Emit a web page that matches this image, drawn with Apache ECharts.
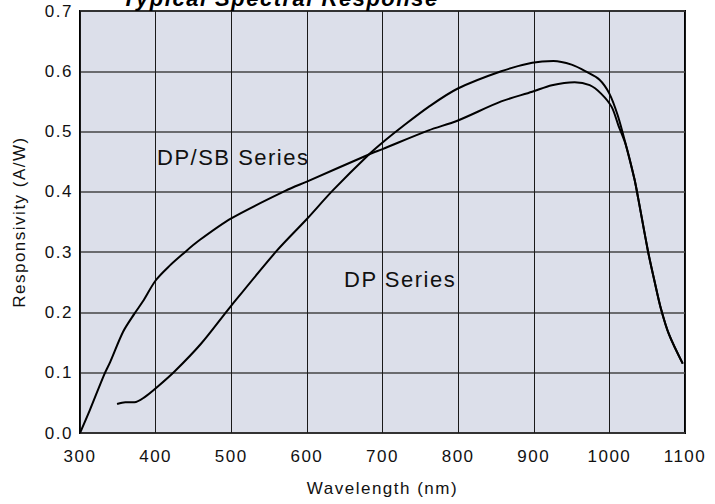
<!DOCTYPE html>
<html>
<head>
<meta charset="utf-8">
<script src="https://cdn.jsdelivr.net/npm/echarts@6/dist/echarts.min.js"></script>
<style>
html,body{margin:0;padding:0;background:#fff;}
#chart{width:715px;height:504px;}
#chart svg text{letter-spacing:1.5px;}
</style>
</head>
<body>
<div id="chart"></div>
<script>
// Tick labels
const xTicks = [300, 400, 500, 600, 700, 800, 900, 1000, 1100];
const yTicks = [0.0, 0.1, 0.2, 0.3, 0.4, 0.5, 0.6, 0.7];

// DP/SB Series
const dpsbWavelength = [300, 313, 332, 340, 357, 372, 383, 400, 419, 436, 456, 500, 572, 600, 682, 700, 761, 799, 857, 898, 924, 954, 974, 989, 1003, 1012, 1022, 1033, 1038, 1051, 1060, 1068, 1079, 1097];
const dpsbResponse   = [0.0, 0.038, 0.097, 0.118, 0.168, 0.198, 0.218, 0.253, 0.278, 0.297, 0.318, 0.356, 0.402, 0.417, 0.462, 0.471, 0.502, 0.518, 0.550, 0.566, 0.577, 0.582, 0.577, 0.563, 0.541, 0.510, 0.477, 0.422, 0.390, 0.302, 0.250, 0.207, 0.163, 0.115];

// DP Series
const dpWavelength = [349, 360, 372, 386, 401, 425, 460, 498, 560, 600, 634, 682, 704, 726, 761, 799, 857, 898, 926, 950, 970, 987, 1000, 1011, 1022, 1033, 1038, 1051, 1060, 1068, 1079, 1097];
const dpResponse   = [0.048, 0.051, 0.051, 0.060, 0.075, 0.102, 0.148, 0.208, 0.302, 0.355, 0.402, 0.462, 0.486, 0.508, 0.541, 0.571, 0.600, 0.614, 0.617, 0.611, 0.599, 0.586, 0.563, 0.527, 0.477, 0.422, 0.390, 0.302, 0.250, 0.207, 0.163, 0.115];

const titleText = 'Typical Spectral Response';
const seriesNames = ['DP/SB Series', 'DP Series'];
const xName = 'Wavelength (nm)';
const yName = 'Responsivity (A/W)';

const FONT = "'Liberation Sans', Arial, sans-serif";

const zip = (a, b) => a.map((v, i) => [v, b[i]]);

const chart = echarts.init(document.getElementById('chart'), null, {renderer: 'svg'});
chart.setOption({
  animation: false,
  backgroundColor: '#ffffff',
  grid: {
    left: 80, right: 30, top: 11, bottom: 71,
    show: true, backgroundColor: '#dcdfea', borderColor: '#000', borderWidth: 2
  },
  xAxis: {
    type: 'value', min: xTicks[0], max: xTicks[xTicks.length - 1], interval: 100,
    axisLine: {show: false}, axisTick: {show: false},
    splitLine: {show: true, lineStyle: {color: '#1a1a1a', width: 1}},
    axisLabel: {color: '#111', fontSize: 17, fontFamily: FONT, margin: 15,
      formatter: v => String(v)},
    name: xName, nameLocation: 'middle', nameGap: 47,
    nameTextStyle: {color: '#111', fontSize: 17, fontFamily: FONT}
  },
  yAxis: {
    type: 'value', min: yTicks[0], max: yTicks[yTicks.length - 1], interval: 0.1,
    axisLine: {show: false}, axisTick: {show: false},
    splitLine: {show: true, lineStyle: {color: '#444', width: 1.5}},
    axisLabel: {color: '#111', fontSize: 17, fontFamily: FONT, margin: 7,
      formatter: v => v.toFixed(1)},
    name: yName, nameLocation: 'middle', nameGap: 52,
    nameTextStyle: {color: '#111', fontSize: 17, fontFamily: FONT}
  },
  series: [
    {name: seriesNames[0], type: 'line', data: zip(dpsbWavelength, dpsbResponse),
     showSymbol: false, smooth: 0.3, lineStyle: {color: '#000', width: 2}},
    {name: seriesNames[1], type: 'line', data: zip(dpWavelength, dpResponse),
     showSymbol: false, smooth: 0.3, lineStyle: {color: '#000', width: 2}}
  ],
  graphic: [
    {type: 'text', left: 122, top: -13, z: 10,
     style: {text: titleText, fill: '#000', font: "italic bold 22px " + FONT}},
    {type: 'text', left: 157, top: 146,
     style: {text: seriesNames[0], fill: '#111', font: "22px " + FONT}},
    {type: 'text', left: 344, top: 268,
     style: {text: seriesNames[1], fill: '#111', font: "22px " + FONT}}
  ]
});
</script>
</body>
</html>
